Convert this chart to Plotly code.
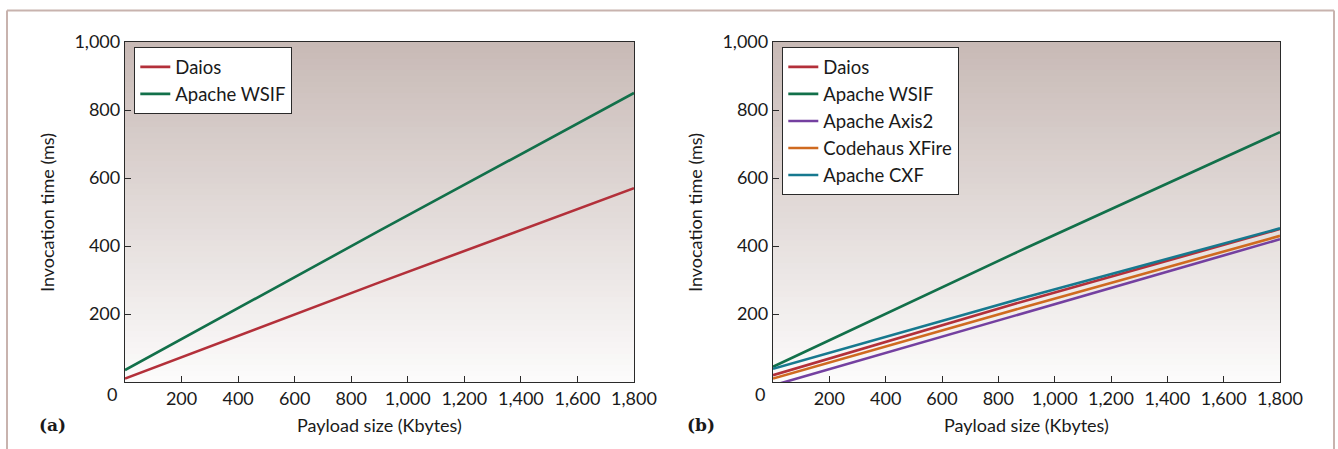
import plotly.graph_objects as go

# ---- data ----
payload_kb = [0, 900, 1800]

a_daios = [10, 293, 570]
a_wsif = [35, 445, 850]

b_daios = [20, 240, 450]
b_wsif = [45, 395, 735]
b_axis2 = [-10, 205, 420]
b_xfire = [10, 222, 430]
b_cxf = [39, 250, 452]

x_ticks = [200, 400, 600, 800, 1000, 1200, 1400, 1600, 1800]
x_ticklabels = ["200", "400", "600", "800", "1,000", "1,200", "1,400", "1,600", "1,800"]
y_ticks = [200, 400, 600, 800, 1000]
y_ticklabels = ["200", "400", "600", "800", "1,000"]

COL = {
    "Daios": "#b3303a",
    "Apache WSIF": "#12704a",
    "Apache Axis2": "#7440a0",
    "Codehaus XFire": "#cf6a20",
    "Apache CXF": "#17798f",
}

W, H = 1338, 449
FONT = "Lato"

fig = go.Figure()

panel_a = [("Daios", a_daios), ("Apache WSIF", a_wsif)]
panel_b = [("Daios", b_daios), ("Apache WSIF", b_wsif), ("Apache Axis2", b_axis2),
           ("Codehaus XFire", b_xfire), ("Apache CXF", b_cxf)]

for name, vals in panel_a:
    fig.add_trace(go.Scatter(x=payload_kb, y=vals, mode="lines", name=name,
                             line=dict(color=COL[name], width=2.6),
                             xaxis="x", yaxis="y", legend="legend"))
for name, vals in panel_b:
    fig.add_trace(go.Scatter(x=payload_kb, y=vals, mode="lines", name=name,
                             line=dict(color=COL[name], width=2.6),
                             xaxis="x2", yaxis="y2", legend="legend2"))

# domains (pixel -> paper)
ya = [1 - 382 / H, 1 - 42 / H]
xa = [125 / W, 634 / W]
xb = [773 / W, 1280 / W]

axis_common = dict(
    showgrid=False, zeroline=False, showline=True, linecolor="#2a2a2a", linewidth=1.3,
    mirror=True, ticks="inside", ticklen=6, tickcolor="#2a2a2a", tickwidth=1,
    automargin=False,
    tickfont=dict(family=FONT, size=18, color="#1a1a1a"),
)

fig.update_layout(
    template="none",
    width=W, height=H,
    margin=dict(l=0, r=0, t=0, b=0, pad=0, autoexpand=False),
    paper_bgcolor="white",
    plot_bgcolor="rgba(0,0,0,0)",
    font=dict(family=FONT, color="#1a1a1a"),
    xaxis=dict(domain=xa, range=[0, 1800], tickvals=x_ticks, ticktext=x_ticklabels,
               anchor="y", **axis_common),
    yaxis=dict(domain=ya, range=[0, 1000], tickvals=y_ticks, ticktext=y_ticklabels,
               anchor="x", **axis_common),
    xaxis2=dict(domain=xb, range=[0, 1800], tickvals=x_ticks, ticktext=x_ticklabels,
                anchor="y2", **axis_common),
    yaxis2=dict(domain=ya, range=[0, 1000], tickvals=y_ticks, ticktext=y_ticklabels,
                anchor="x2", **axis_common),
    legend=dict(x=134 / W, y=1 - 47 / H, xanchor="left", yanchor="top",
                bgcolor="white", bordercolor="#2a2a2a", borderwidth=1.3,
                font=dict(family=FONT, size=18.5, color="#1a1a1a")),
    legend2=dict(x=782 / W, y=1 - 47 / H, xanchor="left", yanchor="top",
                 bgcolor="white", bordercolor="#2a2a2a", borderwidth=1.3,
                 font=dict(family=FONT, size=18.5, color="#1a1a1a")),
    showlegend=True,
)

# gradient background bands
top = (200, 186, 182)
bot = (252, 251, 251)
N = 60
shapes = []
for xr, yr in (("x domain", "y domain"), ("x2 domain", "y2 domain")):
    for i in range(N):
        t = i / (N - 1)
        c = tuple(round(bot[k] + (top[k] - bot[k]) * t) for k in range(3))
        shapes.append(dict(type="rect", xref=xr, yref=yr, x0=0, x1=1,
                           y0=i / N, y1=(i + 1) / N + 0.002, layer="below",
                           line=dict(width=0), fillcolor="rgb(%d,%d,%d)" % c))
# outer frame
shapes.append(dict(type="line", xref="paper", yref="paper", x0=7 / W, x1=1334 / W,
                   y0=1 - 10.5 / H, y1=1 - 10.5 / H, line=dict(color="#c8b3ae", width=2)))
shapes.append(dict(type="line", xref="paper", yref="paper", x0=7 / W, x1=7 / W,
                   y0=0, y1=1 - 10.5 / H, line=dict(color="#c8b3ae", width=2)))
shapes.append(dict(type="line", xref="paper", yref="paper", x0=1334 / W, x1=1334 / W,
                   y0=0, y1=1 - 10.5 / H, line=dict(color="#c8b3ae", width=2)))
fig.update_layout(shapes=shapes)

ann = []
for xc, label, xt in ((xa, "(a)", 37 / W), (xb, "(b)", 685 / W)):
    mid = (xc[0] + xc[1]) / 2
    ann.append(dict(text="Payload size (Kbytes)", xref="paper", yref="paper",
                    x=mid, y=1 - 425 / H, showarrow=False, xanchor="center", yanchor="middle",
                    font=dict(family=FONT, size=18, color="#1a1a1a")))
    ann.append(dict(text="<b>%s</b>" % label, xref="paper", yref="paper",
                    x=xt, y=1 - 425 / H, showarrow=False, xanchor="left", yanchor="middle",
                    font=dict(family="DejaVu Serif", size=17, color="#1a1a1a")))
    ann.append(dict(text="0", xref="paper", yref="paper",
                    x=xc[0] - 13 / W, y=1 - 394 / H, showarrow=False, xanchor="center",
                    yanchor="middle", font=dict(family=FONT, size=18, color="#1a1a1a")))
    ann.append(dict(text="Invocation time (ms)", xref="paper", yref="paper",
                    x=xc[0] - 78 / W, y=(ya[0] + ya[1]) / 2, showarrow=False, textangle=-90,
                    xanchor="center", yanchor="middle",
                    font=dict(family=FONT, size=18, color="#1a1a1a")))
fig.update_layout(annotations=ann)

fig.write_html(
    "out.html",
    config={"displayModeBar": False},
    post_script="document.body.style.margin='0px';document.body.style.overflow='hidden';",
)
